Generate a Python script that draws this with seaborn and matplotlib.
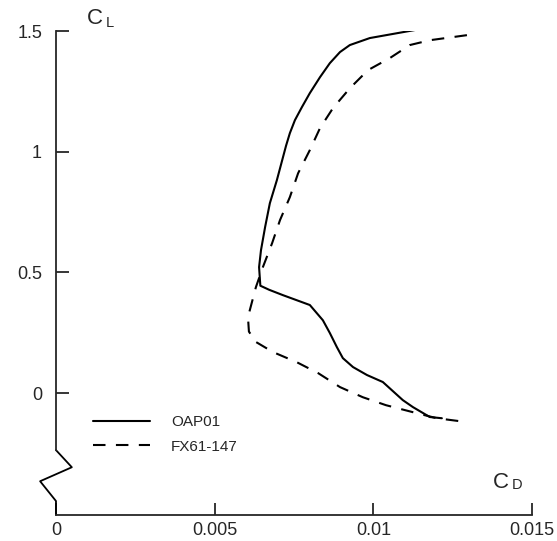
import numpy as np
import pandas as pd
import matplotlib
matplotlib.use("Agg")
import matplotlib.pyplot as plt
import seaborn as sns

# drag polar values (CD, CL), top end first
cd_oap01 = [0.01147, 0.00989, 0.00926, 0.00895, 0.00863, 0.00832, 0.00800, 0.00775,
            0.00753, 0.00737, 0.00725, 0.00696, 0.00674, 0.00659, 0.00646, 0.00640,
            0.00644, 0.00672, 0.00715, 0.00800, 0.00841, 0.00863, 0.00885, 0.00904,
            0.00936, 0.00980, 0.01030, 0.01093, 0.01125, 0.01178, 0.01216]
cl_oap01 = [1.508, 1.471, 1.442, 1.413, 1.367, 1.309, 1.243, 1.185,
            1.131, 1.077, 1.025, 0.882, 0.787, 0.688, 0.592, 0.522,
            0.445, 0.428, 0.406, 0.365, 0.302, 0.249, 0.191, 0.145,
            0.108, 0.075, 0.046, -0.029, -0.058, -0.099, -0.104]

cd_fx61 = [0.01295, 0.01178, 0.01115, 0.01052, 0.00983, 0.00926, 0.00873, 0.00832,
           0.00800, 0.00763, 0.00737, 0.00706, 0.00681, 0.00652, 0.00630, 0.00605,
           0.00608, 0.00630, 0.00684, 0.00759, 0.00826, 0.00895, 0.00967, 0.01040,
           0.01125, 0.01200, 0.01295]
cl_fx61 = [1.483, 1.462, 1.442, 1.388, 1.338, 1.263, 1.181, 1.098,
           1.007, 0.911, 0.812, 0.717, 0.621, 0.522, 0.439, 0.315,
           0.255, 0.212, 0.170, 0.128, 0.083, 0.025, -0.017, -0.050,
           -0.079, -0.104, -0.120]

x_ticks = [0, 0.005, 0.01, 0.015]
x_labels = ["0", "0.005", "0.01", "0.015"]
y_ticks = [0, 0.5, 1, 1.5]
y_labels = ["0", "0.5", "1", "1.5"]

# axis break zig-zag on the CL axis
brk_x = [0, 0.0005, -0.0005, 0, 0]
brk_y = [-0.236, -0.307, -0.365, -0.447, -0.505]

sns.set_style("ticks")
plt.rcParams["font.family"] = ["Liberation Sans", "DejaVu Sans"]

fig = plt.figure(figsize=(5.57, 5.41), dpi=100)
ax = fig.add_axes([0.1005, 0.048, 0.8546, 0.8946])

sns.lineplot(x=cd_oap01, y=cl_oap01, sort=False, estimator=None, color="black",
             lw=1.5, label="OAP01", ax=ax)
sns.lineplot(x=cd_fx61, y=cl_fx61, sort=False, estimator=None, color="black",
             lw=1.5, linestyle=(0, (6, 5)), label="FX61-147", ax=ax)

ax.set_xlim(0, 0.015)
ax.set_ylim(-0.505, 1.5)

for s in ["top", "right"]:
    ax.spines[s].set_visible(False)
ax.spines["left"].set_bounds(-0.236, 1.5)
ax.spines["left"].set_linewidth(1.3)
ax.spines["bottom"].set_linewidth(1.3)
ax.plot(brk_x, brk_y, color="black", lw=1.3, clip_on=False)

ax.set_xticks(x_ticks)
ax.set_xticklabels(x_labels)
ax.set_yticks(y_ticks)
ax.set_yticklabels(y_labels)
ax.tick_params(axis="both", direction="in", length=9, width=1.3, labelsize=13)
ax.tick_params(axis="x", pad=5)
ax.tick_params(axis="y", pad=10)
ax.set_xlabel("")
ax.set_ylabel("")

# axis names C_L and C_D
ax.text(0.00098, 1.55, "C", fontsize=16, va="center", ha="left")
ax.text(0.00158, 1.535, "L", fontsize=10.5, va="center", ha="left")
ax.text(0.01377, -0.369, "C", fontsize=16, va="center", ha="left")
ax.text(0.01437, -0.382, "D", fontsize=10.5, va="center", ha="left")

ax.legend(loc="upper left", bbox_to_anchor=(0.078, 0.207), frameon=False,
          fontsize=11, handlelength=3.7, handletextpad=1.4, labelspacing=0.7,
          borderpad=0, borderaxespad=0)

fig.savefig("out.png", dpi=100, facecolor="white")
